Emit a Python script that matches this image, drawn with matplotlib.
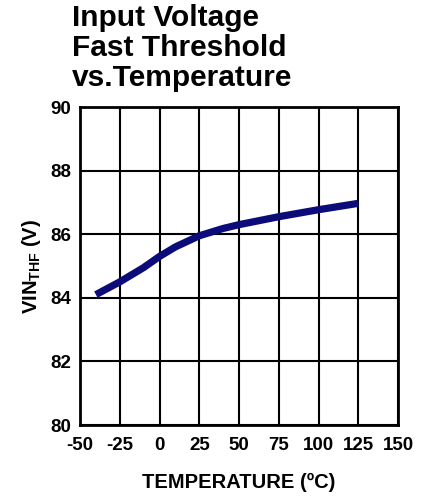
import matplotlib
matplotlib.use("Agg")
import matplotlib.pyplot as plt

temps = [-40, -25, -10, 0, 10, 25, 40, 50, 75, 100, 125]
vin_thf = [84.1, 84.5, 84.95, 85.3, 85.6, 85.95, 86.18, 86.3, 86.55, 86.77, 86.97]
x_ticks = [-50, -25, 0, 25, 50, 75, 100, 125, 150]
y_ticks = [80, 82, 84, 86, 88, 90]

plt.rcParams['font.family'] = ['Liberation Sans', 'DejaVu Sans']
plt.rcParams['mathtext.fontset'] = 'custom'
plt.rcParams['mathtext.rm'] = 'Liberation Sans:bold'
plt.rcParams['axes.unicode_minus'] = False

fig = plt.figure(figsize=(4.28, 4.97), dpi=100)
ax = fig.add_axes([80/428, 1-425/497, 318/428, 318/497])

ax.plot(temps, vin_thf, color='#0b0b7a', lw=5.2, solid_capstyle='butt', zorder=3)
ax.set_xlim(-50, 150)
ax.set_ylim(80, 90)
ax.set_xticks(x_ticks)
ax.set_yticks(y_ticks)
ax.grid(True, color='black', lw=1.5)
for s in ax.spines.values():
    s.set_linewidth(2)
ax.tick_params(axis='x', length=0, pad=9)
ax.tick_params(axis='y', length=0, pad=6.5)
for lab in ax.get_xticklabels() + ax.get_yticklabels():
    lab.set_fontsize(13.5)
    lab.set_fontweight('bold')

ax.set_xlabel('TEMPERATURE (ºC)', fontsize=14.5, fontweight='bold', labelpad=13)
ax.set_ylabel(r'VIN$_{\mathregular{THF}}$ (V)', fontsize=14.5, fontweight='bold', labelpad=5)

fig.text(72/428, 1-4/497, 'Input Voltage\nFast Threshold\nvs.Temperature', fontsize=21.5,
         fontweight='bold', va='top', ha='left', linespacing=1.08)

fig.savefig('out.png', dpi=100)
